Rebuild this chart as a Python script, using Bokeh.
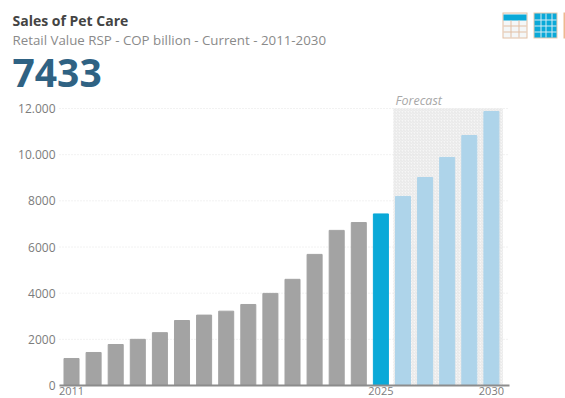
from bokeh.plotting import figure
from bokeh.models import ColumnDataSource, FixedTicker, BoxAnnotation, Range1d
from bokeh.core.properties import value
from bokeh.embed import file_html
from bokeh.resources import INLINE

years = list(range(2011, 2031))
sales = [1170, 1430, 1776, 2000, 2290, 2816, 3050, 3220, 3510, 3990,
         4600, 5680, 6720, 7060, 7433, 8190, 9010, 9880, 10830, 11870]
current_year = 2025
y_ticks = [0, 2000, 4000, 6000, 8000, 10000, 12000]
y_tick_labels = {0: "0", 2000: "2000", 4000: "4000", 6000: "6000", 8000: "8000",
                 10000: "10.000", 12000: "12.000"}
x_ticks = [2011, 2025, 2030]
title = "Sales of Pet Care"
subtitle = "Retail Value RSP - COP billion - Current - 2011-2030"
headline = "7433"
forecast_label = "Forecast"

GREY, CYAN, PALE = "#a3a3a3", "#0aa9d8", "#aed4ea"
FONT = "Open Sans"
X_START, X_END = 2010.457, 2030.81


def bar_colour(year):
    if year < current_year:
        return GREY
    return CYAN if year == current_year else PALE


# The frame fills the canvas; both axes are pinned inside it, and a second
# pair of ranges gives page-like coordinates for the header furniture.
p = figure(width=565, height=398, output_backend="svg", toolbar_location=None,
           x_range=(2007.787, 2033.353), y_range=(-563, 16679), min_border=0)
p.extra_x_ranges["page"] = Range1d(0, 565)
p.extra_y_ranges["page"] = Range1d(398, 0)
p.outline_line_color = None
p.grid.visible = False


def caption(text, x, y, size, colour, style="normal"):
    p.text(x=[x], y=[y], text=[text], text_font=value(FONT), text_font_size=size,
           text_color=colour, text_font_style=style, text_baseline="middle",
           x_range_name="page", y_range_name="page")


caption(title, 12, 20, "14px", "#444444", "bold")
caption(subtitle, 12, 39, "13.3px", "#8a8a8a")
caption(headline, 12, 72, "39px", "#2f6283", "bold")
caption(forecast_label, 395, 100, "12.5px", "#a8a8a8", "italic")


def cell(left, right, top, bottom, colour):
    p.quad(left=left, right=right, top=top, bottom=bottom, color=colour, line_color=None,
           x_range_name="page", y_range_name="page")


# View switcher icons
TAN = "#e2bfa4"
cell(502, 527, 12, 38, TAN)
cell(503, 526, 13, 37, "#f4f7f8")
cell(503, 526, 14, 20, CYAN)
for x in (510, 518):
    cell(x, x + 1, 20, 37, TAN)
for y in (25, 31):
    cell(503, 526, y, y + 1, TAN)

cell(533, 557, 12, 38, "#e9c9ae")
cell(534, 556, 13, 37, CYAN)
for x in (540, 545, 551):
    cell(x, x + 1, 13, 37, "#d6ecf4")
for y in (19, 25, 31):
    cell(534, 556, y, y + 1, "#d6ecf4")

cell(563, 565, 12, 38, "#eeb98f")

# Shaded forecast period behind the bars
p.add_layout(BoxAnnotation(left=2025.56, right=2030.52, bottom=0, top=12000, level="underlay",
                           fill_color="#f6f6f6", fill_alpha=1, line_color=None,
                           hatch_pattern="right_diagonal_line", hatch_color="#dcdcdc",
                           hatch_alpha=1, hatch_scale=3, hatch_weight=0.6))

# Gridlines stop at the axis extent, so they are drawn rather than taken from the grid
p.segment(x0=[X_START] * len(y_ticks), x1=[X_END] * len(y_ticks), y0=y_ticks, y1=y_ticks,
          line_color="#e4e4e4", line_dash="1 2", line_width=1)

source = ColumnDataSource(dict(year=years, sales=sales,
                               colour=[bar_colour(y) for y in years]))
p.vbar(x="year", top="sales", width=0.68, color="colour", source=source)

p.yaxis.fixed_location = X_START
p.yaxis.bounds = (0, 12000)
p.yaxis.ticker = FixedTicker(ticks=y_ticks)
p.yaxis.major_label_overrides = y_tick_labels
p.yaxis.axis_line_color = None
p.yaxis.major_tick_line_color = None
p.yaxis.minor_tick_line_color = None
p.yaxis.major_tick_out = 0
p.yaxis.major_tick_in = 0
p.yaxis.major_label_text_color = "#7c7c7c"
p.yaxis.major_label_text_font = FONT
p.yaxis.major_label_text_font_size = "12px"
p.yaxis.major_label_standoff = 4

p.xaxis.fixed_location = 0
p.xaxis.bounds = (X_START, X_END)
p.xaxis.ticker = FixedTicker(ticks=x_ticks)
p.xaxis.axis_line_color = "#8c8c8c"
p.xaxis.axis_line_width = 2
p.xaxis.major_tick_line_color = None
p.xaxis.minor_tick_line_color = None
p.xaxis.major_tick_out = 0
p.xaxis.major_tick_in = 0
p.xaxis.major_label_text_color = "#7c7c7c"
p.xaxis.major_label_text_font = FONT
p.xaxis.major_label_text_font_size = "11px"
p.xaxis.major_label_standoff = 1

open("out.html", "w").write(file_html(p, INLINE))
